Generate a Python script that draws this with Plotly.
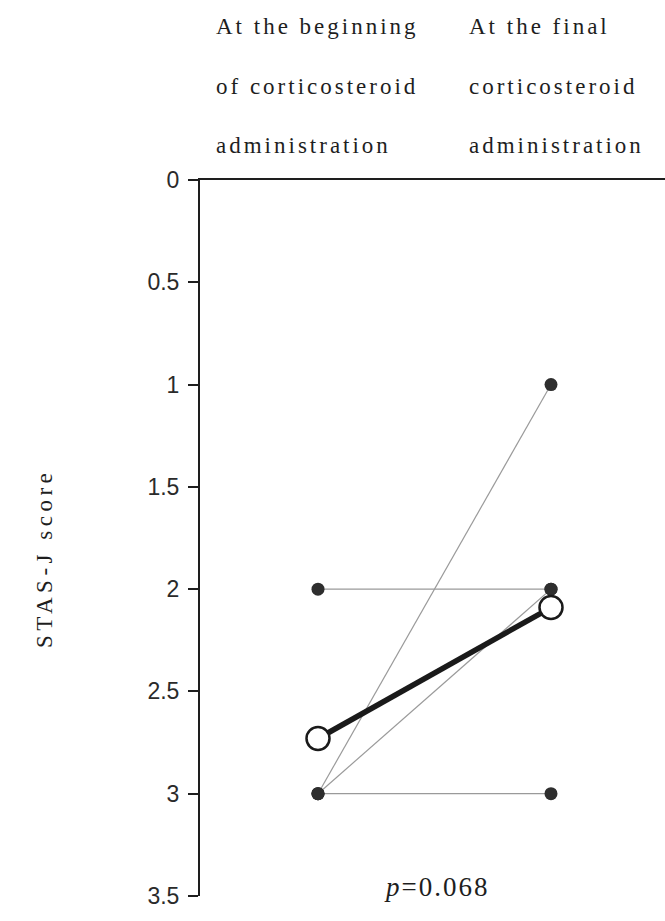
import plotly.graph_objects as go

# Time points (numeric positions of the two measurement occasions)
timepoints = [0, 1]
category_lines = [
    ["At the beginning", "of corticosteroid", "administration"],
    ["At the final", "corticosteroid", "administration"],
]

# Individual patient STAS-J scores (start -> final)
patient_start = [3, 2, 3, 3]
patient_end = [1, 2, 3, 2]

# Group mean scores
mean_scores = [2.73, 2.09]

y_ticks = [0, 0.5, 1, 1.5, 2, 2.5, 3, 3.5]
y_tick_text = ["0", "0.5", "1", "1.5", "2", "2.5", "3", "3.5"]
y_title = "STAS-J score"
p_value = "0.068"

SERIF = "Liberation Serif, Times New Roman, serif"
SANS = "Liberation Sans, Arial, sans-serif"
INK = "#1e1e1e"

W, H = 665, 921
ML, MR, MT, MB = 200, 0, 180, 25
plot_w = W - ML - MR
plot_h = H - MT - MB


def spaced(text, px):
    return f'<span style="letter-spacing:{px}px">{text}</span>'


def py(pixel_y):
    # convert a page pixel row to paper coordinates
    return (H - MB - pixel_y) / plot_h


def px(pixel_x):
    return (pixel_x - ML) / plot_w


fig = go.Figure()

# Thin lines joining each patient's two scores
for s, e in zip(patient_start, patient_end):
    fig.add_trace(go.Scatter(
        x=timepoints, y=[s, e], mode="lines",
        line=dict(color="#9a9a9a", width=1.2),
        hoverinfo="skip", showlegend=False,
    ))

# Patient score dots
fig.add_trace(go.Scatter(
    x=[timepoints[0]] * len(patient_start) + [timepoints[1]] * len(patient_end),
    y=patient_start + patient_end,
    mode="markers",
    marker=dict(size=13, color="#2e2e2e", line=dict(width=0)),
    showlegend=False,
))

# Mean change
fig.add_trace(go.Scatter(
    x=timepoints, y=mean_scores, mode="lines",
    line=dict(color="#1a1a1a", width=5.5),
    showlegend=False,
))
fig.add_trace(go.Scatter(
    x=timepoints, y=mean_scores, mode="markers",
    marker=dict(size=23, color="white", line=dict(color="#1a1a1a", width=2.5)),
    showlegend=False,
))

annotations = []
label_left_px = [214, 467]
centers = [26, 87, 145]
for lines, lx in zip(category_lines, label_left_px):
    for text, cy in zip(lines, centers):
        annotations.append(dict(
            text=spaced(text, 3), xref="paper", yref="paper",
            x=px(lx), y=py(cy), xanchor="left", yanchor="middle",
            showarrow=False, font=dict(family=SERIF, size=23, color=INK),
        ))

annotations.append(dict(
    text=spaced(y_title, 4.5), xref="paper", yref="paper",
    x=px(44), y=py(559), xanchor="center", yanchor="middle",
    textangle=-90, showarrow=False,
    font=dict(family=SERIF, size=23, color=INK),
))

annotations.append(dict(
    text=spaced(f"<i>p</i>={p_value}", 2), xref="paper", yref="paper",
    x=px(436), y=py(887), xanchor="center", yanchor="middle",
    showarrow=False, font=dict(family=SERIF, size=27, color=INK),
))

x0 = -(318 - ML) / 233
x1 = x0 + plot_w / 233

fig.update_layout(
    width=W, height=H,
    margin=dict(l=ML, r=MR, t=MT, b=MB),
    paper_bgcolor="white", plot_bgcolor="white",
    annotations=annotations,
    xaxis=dict(
        range=[x0, x1], side="top", showline=True, linecolor=INK, linewidth=2,
        showticklabels=False, ticks="", showgrid=False, zeroline=False,
    ),
    yaxis=dict(
        range=[3.5, 0], showline=True, linecolor=INK, linewidth=2,
        ticks="outside", ticklen=10, tickwidth=2, tickcolor=INK,
        tickvals=y_ticks, ticktext=y_tick_text,
        tickfont=dict(family=SANS, size=23, color="#2a2a2a"),
        ticklabelstandoff=4,
        showgrid=False, zeroline=False,
    ),
)

fig.write_html("out.html")
